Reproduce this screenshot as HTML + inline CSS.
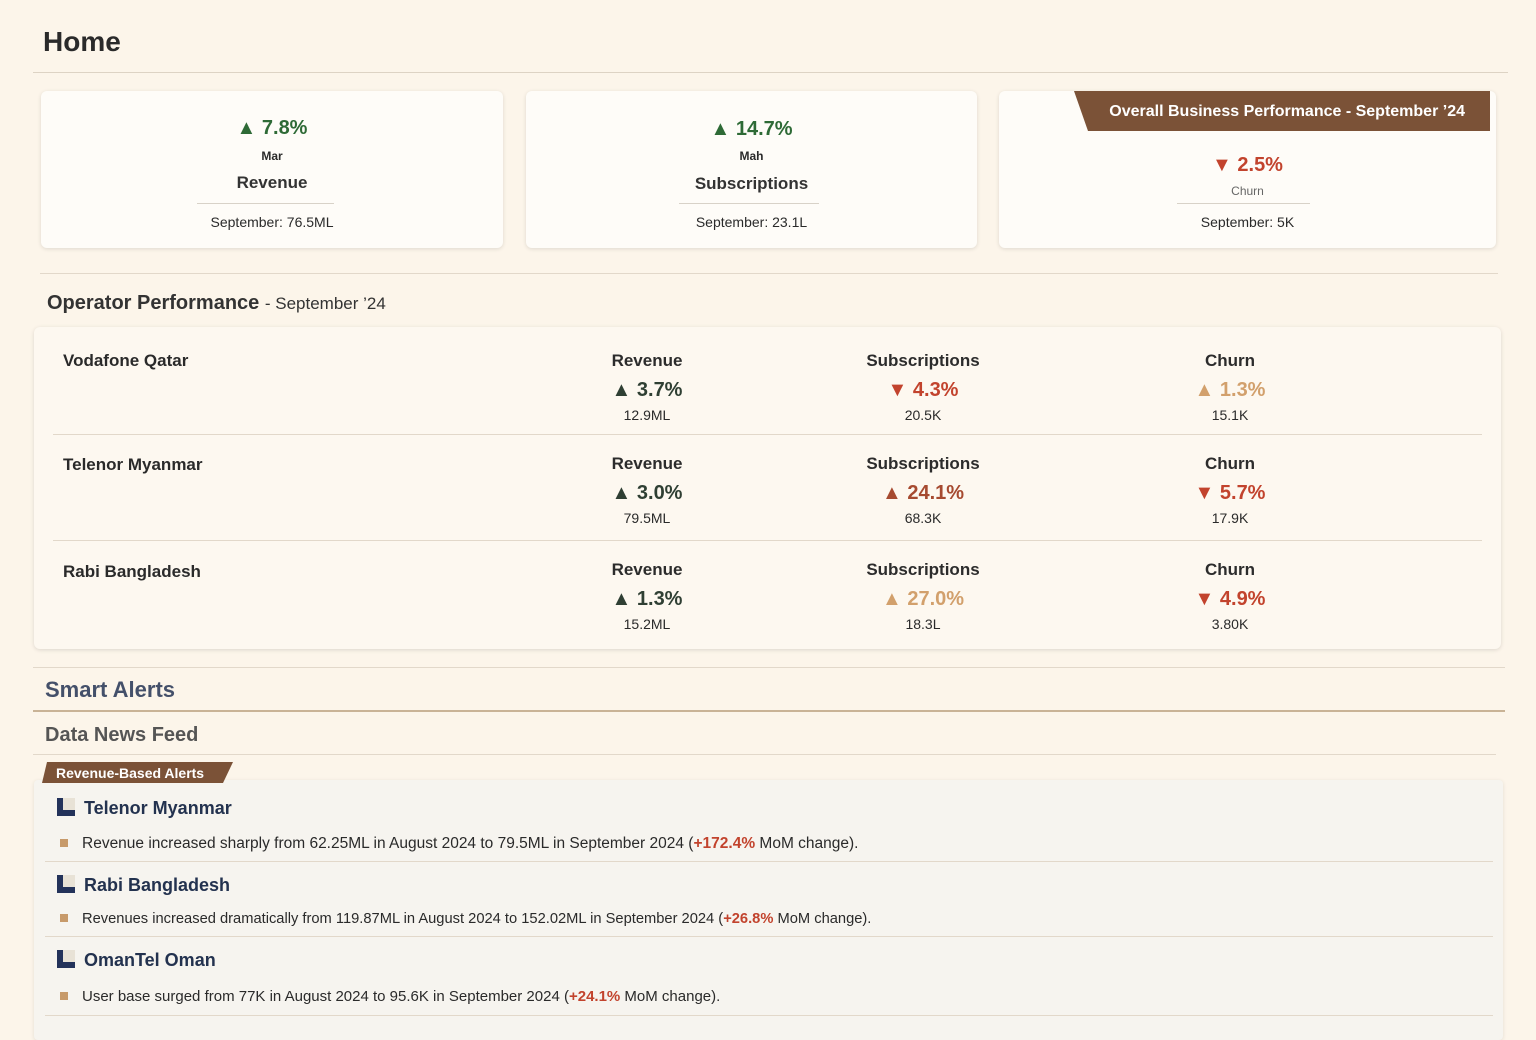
<!DOCTYPE html>
<html><head><meta charset="utf-8"><style>
*{margin:0;padding:0;box-sizing:border-box}
body{width:1536px;height:1024px;overflow:hidden;background:#fcf5ea;font-family:"Liberation Sans",sans-serif;color:#2a2a2a;position:relative}
.a{position:absolute}
.hr{position:absolute;height:1px;background:#e2d8ca}
.card{position:absolute;top:91px;height:157px;background:#fefcf8;border-radius:6px;box-shadow:0 1px 4px rgba(0,0,0,.12);text-align:center}
.card .p{position:absolute;left:0;right:0;top:26px;font-size:20px;font-weight:bold}
.card .s{position:absolute;left:0;right:0;top:58px;font-size:12px;font-weight:bold}
.card .n{position:absolute;left:0;right:0;top:82px;font-size:17px;font-weight:bold;color:#333}
.card .l{position:absolute;top:112px;height:1px;background:#d8d2c8}
.card .v{position:absolute;left:0;right:0;top:123px;font-size:14px}
.g{color:#2e6a36}.r{color:#c2432d}.o{color:#d2a06c}.d{color:#2f3f33}
.col{position:absolute;width:200px;text-align:center}
.col .h{font-size:17px;font-weight:bold;color:#2c2c2c}
.col .p{font-size:20px;font-weight:bold;margin-top:8px}
.col .v{font-size:14px;margin-top:5px}
.op{position:absolute;left:63px;font-size:17px;font-weight:bold}
.it{position:absolute;left:57px;font-size:18px;font-weight:bold;color:#23324f}
.ic{display:inline-block;width:18px;height:18px;background:#23325a;vertical-align:-2px;margin-right:9px;position:relative}
.ic:after{content:"";position:absolute;left:6px;top:0;width:12px;height:12px;background:#e8e2d6}
.tx{position:absolute;left:60px;font-size:15px;color:#2a2a2a}
.tx b{display:inline-block;width:8px;height:8px;background:#c79a6a;margin-right:14px;vertical-align:1px}
.tx i{font-style:normal;color:#c2432d;font-weight:bold}
</style></head><body>
<div class="a" style="left:43px;top:26px;font-size:28px;font-weight:bold;color:#2a2a2a">Home</div>
<div class="hr" style="left:33px;top:72px;width:1475px;background:#ddd3c4"></div>

<div class="card" style="left:41px;width:462px">
<div class="p g">▲ 7.8%</div><div class="s">Mar</div><div class="n">Revenue</div>
<div class="l" style="left:156px;width:137px"></div><div class="v">September: 76.5ML</div></div>
<div class="card" style="left:526px;width:451px">
<div class="p g" style="top:27px">▲ 14.7%</div><div class="s">Mah</div><div class="n" style="top:83px">Subscriptions</div>
<div class="l" style="left:153px;width:140px"></div><div class="v">September: 23.1L</div></div>
<div class="card" style="left:999px;width:497px">
<div class="a" style="left:75px;top:0;width:416px;height:40px;background:#7b5237;clip-path:polygon(0 0,100% 0,100% 100%,14px 100%);color:#fff;font-size:16px;font-weight:bold;line-height:42px;text-align:right;padding-right:25px">Overall Business Performance - September ’24</div>
<div class="p r" style="top:63px">▼ 2.5%</div>
<div class="s" style="top:93px;font-weight:normal;color:#666">Churn</div>
<div class="l" style="left:178px;width:133px"></div><div class="v">September: 5K</div></div>

<div class="hr" style="left:40px;top:273px;width:1458px"></div>
<div class="a" style="left:47px;top:292px;font-size:20px;font-weight:bold;color:#333">Operator Performance <span style="font-size:17px;font-weight:normal">- September ’24</span></div>

<div class="a" style="left:34px;top:327px;width:1467px;height:322px;background:#fdf8f0;border-radius:6px;box-shadow:0 1px 4px rgba(0,0,0,.13)"></div>
<div class="hr" style="left:53px;top:434px;width:1429px"></div>
<div class="hr" style="left:53px;top:540px;width:1429px"></div>

<div class="op" style="top:351px">Vodafone Qatar</div>
<div class="col" style="left:547px;top:351px"><div class="h">Revenue</div><div class="p d">▲ 3.7%</div><div class="v">12.9ML</div></div>
<div class="col" style="left:823px;top:351px"><div class="h">Subscriptions</div><div class="p r">▼ 4.3%</div><div class="v">20.5K</div></div>
<div class="col" style="left:1130px;top:351px"><div class="h">Churn</div><div class="p o">▲ 1.3%</div><div class="v">15.1K</div></div>

<div class="op" style="top:455px">Telenor Myanmar</div>
<div class="col" style="left:547px;top:454px"><div class="h">Revenue</div><div class="p d">▲ 3.0%</div><div class="v">79.5ML</div></div>
<div class="col" style="left:823px;top:454px"><div class="h">Subscriptions</div><div class="p" style="color:#a64a30">▲ 24.1%</div><div class="v">68.3K</div></div>
<div class="col" style="left:1130px;top:454px"><div class="h">Churn</div><div class="p r">▼ 5.7%</div><div class="v">17.9K</div></div>

<div class="op" style="top:562px">Rabi Bangladesh</div>
<div class="col" style="left:547px;top:560px"><div class="h">Revenue</div><div class="p d">▲ 1.3%</div><div class="v">15.2ML</div></div>
<div class="col" style="left:823px;top:560px"><div class="h">Subscriptions</div><div class="p o">▲ 27.0%</div><div class="v">18.3L</div></div>
<div class="col" style="left:1130px;top:560px"><div class="h">Churn</div><div class="p r">▼ 4.9%</div><div class="v">3.80K</div></div>

<div class="hr" style="left:33px;top:667px;width:1472px"></div>
<div class="a" style="left:45px;top:677px;font-size:22px;font-weight:bold;color:#44506a">Smart Alerts</div>
<div class="hr" style="left:33px;top:710px;width:1472px;height:2px;background:#c9b396"></div>
<div class="a" style="left:45px;top:724px;font-size:20px;font-weight:bold;color:#555">Data News Feed</div>
<div class="hr" style="left:33px;top:754px;width:1463px"></div>

<div class="a" style="left:34px;top:780px;width:1469px;height:260px;background:#f6f4ef;border-radius:4px;box-shadow:0 1px 4px rgba(0,0,0,.1)"></div>
<div class="a" style="left:42px;top:762px;width:191px;height:21px;background:#7b5237;clip-path:polygon(5px 0,100% 0,calc(100% - 10px) 100%,0 100%);color:#fff;font-size:14px;font-weight:bold;line-height:22px;padding-left:14px">Revenue-Based Alerts</div>

<div class="it" style="top:798px"><span class="ic"></span>Telenor Myanmar</div>
<div class="tx" style="top:835px;font-size:15.5px"><b></b>Revenue increased sharply from 62.25ML in August 2024 to 79.5ML in September 2024 (<i>+172.4%</i> MoM change).</div>
<div class="hr" style="left:45px;top:861px;width:1448px"></div>
<div class="it" style="top:875px"><span class="ic"></span>Rabi Bangladesh</div>
<div class="tx" style="top:911px;font-size:14.7px"><b></b>Revenues increased dramatically from 119.87ML in August 2024 to 152.02ML in September 2024 (<i>+26.8%</i> MoM change).</div>
<div class="hr" style="left:45px;top:936px;width:1448px"></div>
<div class="it" style="top:950px"><span class="ic"></span>OmanTel Oman</div>
<div class="tx" style="top:988px"><b></b>User base surged from 77K in August 2024 to 95.6K in September 2024 (<i>+24.1%</i> MoM change).</div>
<div class="hr" style="left:45px;top:1015px;width:1448px"></div>
</body></html>
